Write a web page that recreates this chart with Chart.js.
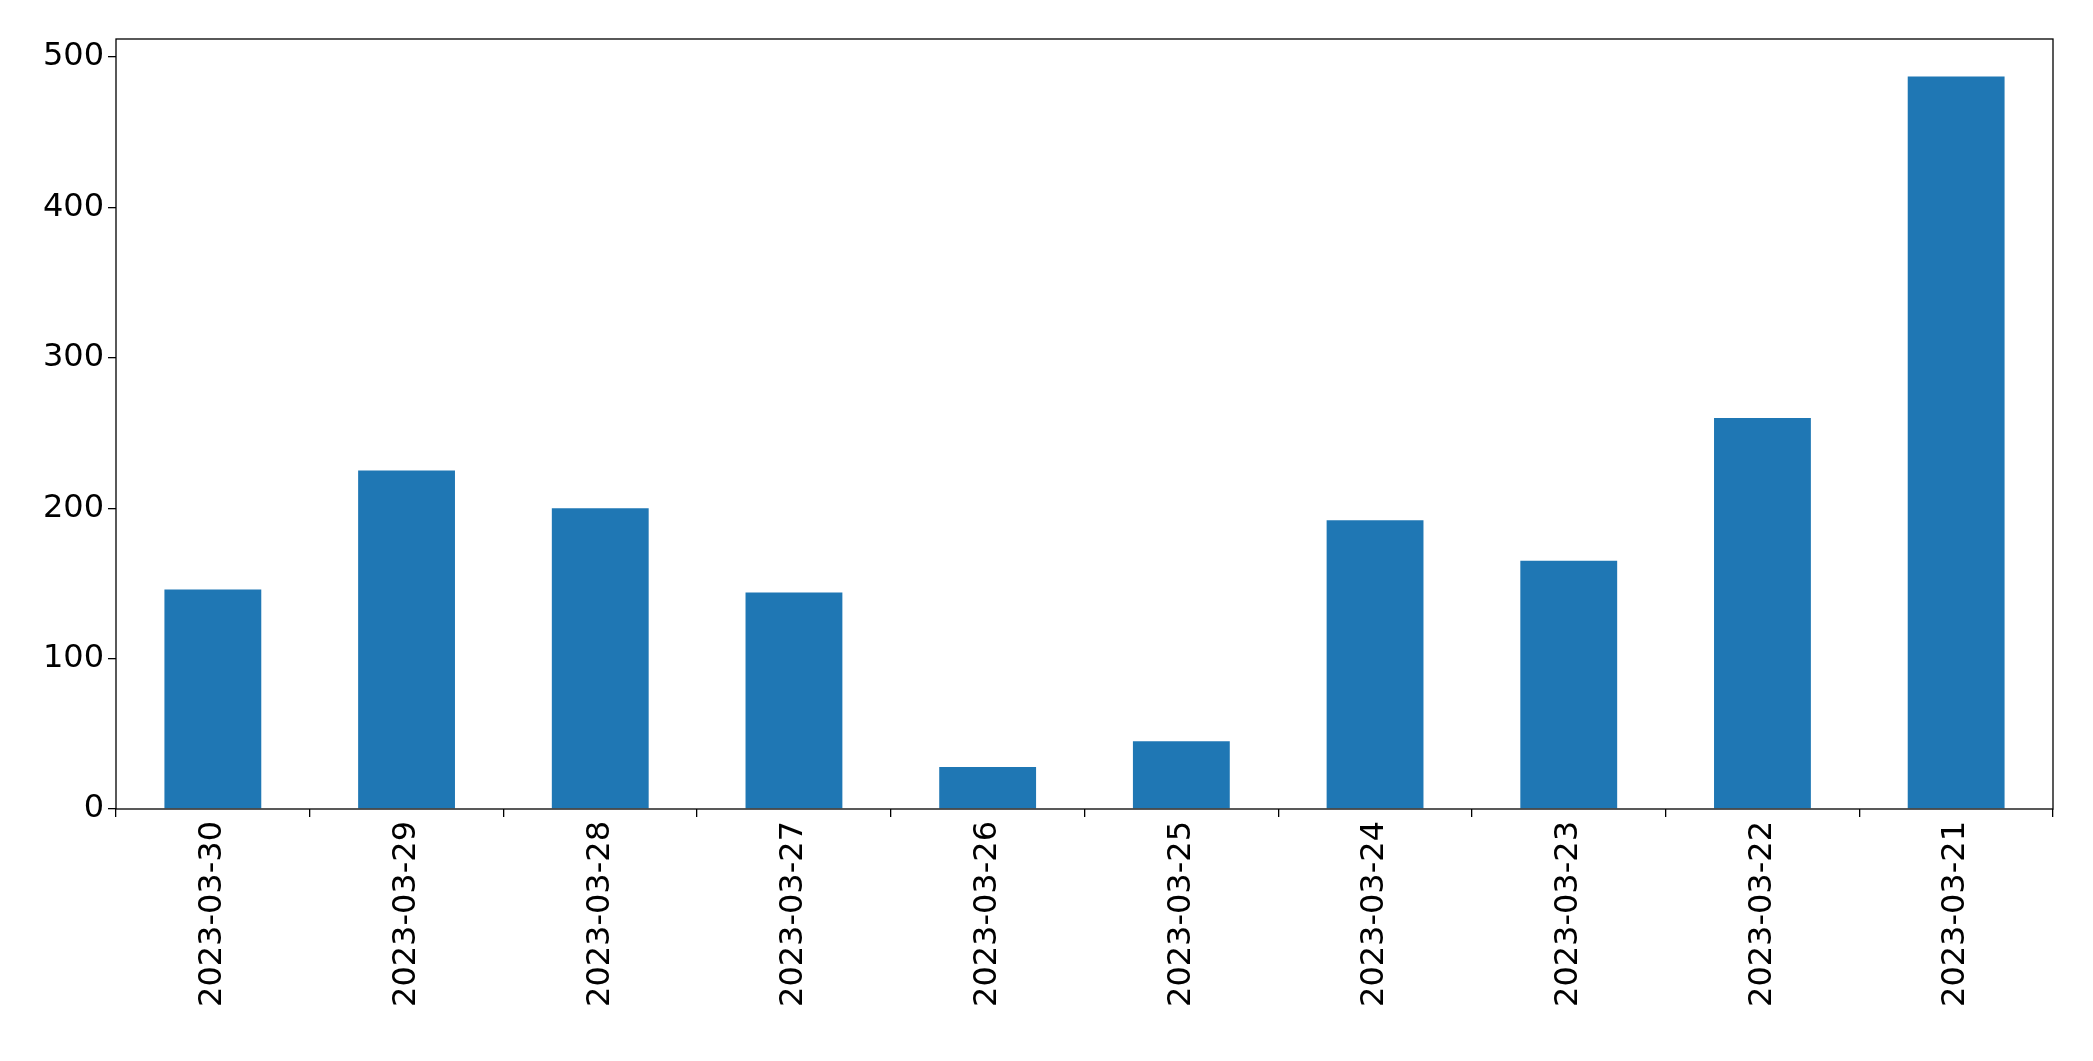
<!DOCTYPE html>
<html>
<head>
<meta charset="utf-8">
<script src="https://cdn.jsdelivr.net/npm/chart.js@4"></script>
<style>
  html, body { margin: 0; padding: 0; background: #fff; }
  #wrap { width: 2093px; height: 1061px; }
</style>
</head>
<body>
<div id="wrap"><canvas id="chart" width="2093" height="1061"></canvas></div>
<script>
var dates = ['2023-03-30', '2023-03-29', '2023-03-28', '2023-03-27', '2023-03-26',
             '2023-03-25', '2023-03-24', '2023-03-23', '2023-03-22', '2023-03-21'];
var counts = [146, 225, 200, 144, 28, 45, 192, 165, 260, 487];
var yTicks = [0, 100, 200, 300, 400, 500];

// draw the full frame around the plot area, like matplotlib
var framePlugin = {
    id: 'frame',
    afterDraw: function(chart) {
        var a = chart.chartArea;
        var ctx = chart.ctx;
        ctx.save();
        ctx.strokeStyle = '#000';
        ctx.lineWidth = 1.3;
        ctx.strokeRect(a.left, a.top, a.right - a.left, a.bottom - a.top);
        ctx.restore();
    }
};

var ctx = document.getElementById('chart').getContext('2d');
var chart = new Chart(ctx, {
    type: 'bar',
    data: {
        labels: dates,
        datasets: [{
            data: counts,
            backgroundColor: '#1f77b4',
            barPercentage: 0.5,
            categoryPercentage: 1.0
        }]
    },
    options: {
        responsive: false,
        animation: false,
        layout: { padding: { left: 4, top: 39, right: 40, bottom: 0 } },
        plugins: {
            legend: { display: false },
            tooltip: { enabled: false }
        },
        scales: {
            x: {
                grid: { drawOnChartArea: false, tickLength: 8, color: '#000', lineWidth: 1.3 },
                border: { display: false },
                ticks: {
                    color: '#000',
                    font: { family: 'DejaVu Sans', size: 32 },
                    minRotation: 90,
                    maxRotation: 90,
                    padding: 4
                },
                afterFit: function(scale) { scale.height = 252; }
            },
            y: {
                min: 0,
                max: 512,
                afterBuildTicks: function(scale) {
                    scale.ticks = yTicks.map(function(v) { return { value: v }; });
                },
                grid: { drawOnChartArea: false, tickLength: 8, color: '#000', lineWidth: 1.3 },
                border: { display: false },
                ticks: {
                    color: '#000',
                    font: { family: 'DejaVu Sans', size: 32 },
                    padding: 4
                },
                afterFit: function(scale) { scale.width = 112; }
            }
        }
    },
    plugins: [framePlugin]
});
</script>
</body>
</html>
